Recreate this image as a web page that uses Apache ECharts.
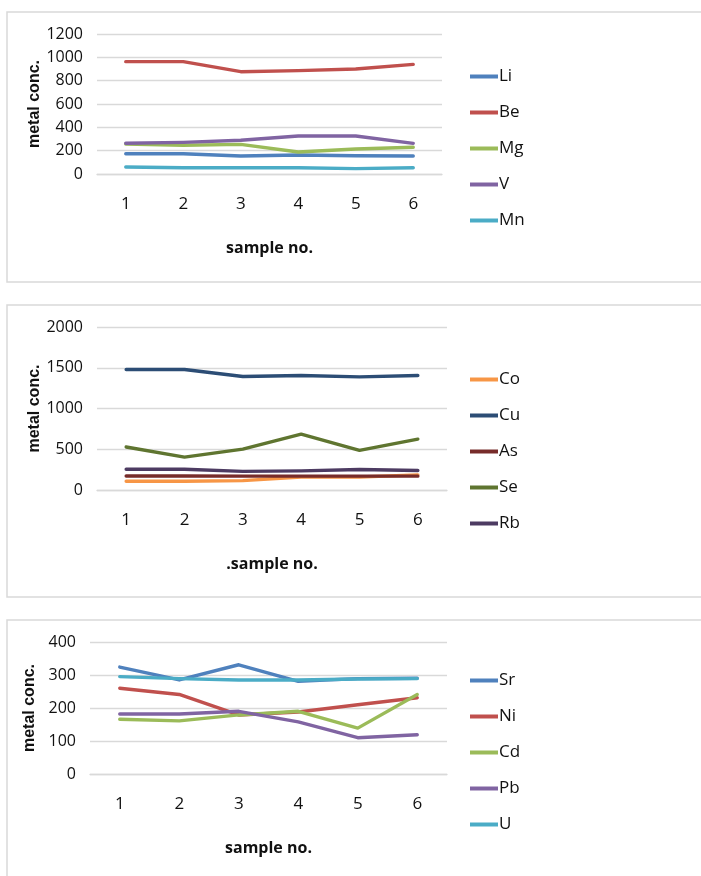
<!DOCTYPE html>
<html>
<head>
<meta charset="utf-8">
<script src="https://cdn.jsdelivr.net/npm/echarts@6/dist/echarts.min.js"></script>
<style>
html, body { margin: 0; padding: 0; background: #fff; }
#main { width: 701px; height: 876px; }
</style>
</head>
<body>
<div id="main"></div>
<script>
var samples = ['1', '2', '3', '4', '5', '6'];

// panel 1
var names1 = ['Li', 'Be', 'Mg', 'V', 'Mn'];
var Li = [174, 174, 154, 163, 157, 154];
var Be = [963, 963, 877, 886, 900, 940];
var Mg = [257, 246, 254, 189, 214, 229];
var V  = [263, 271, 289, 326, 326, 263];
var Mn = [60, 54, 54, 54, 46, 54];

// panel 2
var names2 = ['Co', 'Cu', 'As', 'Se', 'Rb'];
var Co = [107, 107, 115, 160, 160, 185];
var Cu = [1478, 1478, 1392, 1404, 1388, 1404];
var As = [172, 172, 170, 170, 170, 170];
var Se = [527, 404, 502, 686, 486, 624];
var Rb = [254, 254, 228, 235, 252, 240];

// panel 3
var names3 = ['Sr', 'Ni', 'Cd', 'Pb', 'U'];
var Sr = [324, 285, 331, 281, 289, 290];
var Ni = [260, 241, 179, 188, 210, 231];
var Cd = [166, 161, 179, 190, 139, 241];
var Pb = [182, 182, 190, 158, 110, 119];
var U  = [295, 289, 285, 285, 288, 289];

var colors1 = ['#4F81BD', '#C0504D', '#9BBB59', '#8064A2', '#4BACC6'];
var colors2 = ['#F79646', '#2C4D75', '#772C2A', '#5F7530', '#4D3B62'];
var colors3 = ['#4F81BD', '#C0504D', '#9BBB59', '#8064A2', '#4BACC6'];

var font = '"Open Sans", sans-serif';

var panels = [
    {names: names1, data: [Li, Be, Mg, V, Mn], colors: colors1, max: 1200, interval: 200,
     grid: {left: 97, top: 34, width: 345, height: 140}, xname: 'sample no.', legendTop: 63, box: [7, 12, 720, 270]},
    {names: names2, data: [Co, Cu, As, Se, Rb], colors: colors2, max: 2000, interval: 500,
     grid: {left: 97, top: 327, width: 350, height: 163}, xname: '.sample no.', legendTop: 366, box: [7, 305, 720, 292]},
    {names: names3, data: [Sr, Ni, Cd, Pb, U], colors: colors3, max: 400, interval: 100,
     grid: {left: 90, top: 642, width: 357, height: 132}, xname: 'sample no.', legendTop: 667, box: [7, 620, 720, 300]}
];

var grids = [], xAxes = [], yAxes = [], series = [], legends = [], graphic = [];

for (var p = 0; p < panels.length; p++) {
    var P = panels[p];
    grids.push(P.grid);
    graphic.push({
        type: 'rect',
        shape: {x: P.box[0], y: P.box[1], width: P.box[2], height: P.box[3]},
        style: {fill: 'none', stroke: '#d9d9d9', lineWidth: 1.5},
        silent: true
    });
    xAxes.push({
        type: 'category',
        gridIndex: p,
        data: samples,
        boundaryGap: true,
        axisLine: {show: true, lineStyle: {color: '#d9d9d9', width: 1.3}},
        axisTick: {show: false},
        axisLabel: {margin: 22, fontSize: 17, color: '#111', fontFamily: font},
        name: P.xname,
        nameLocation: 'middle',
        nameGap: 66,
        nameTextStyle: {fontSize: 16, fontWeight: 'bold', color: '#111', fontFamily: font}
    });
    yAxes.push({
        type: 'value',
        gridIndex: p,
        min: 0,
        max: P.max,
        interval: P.interval,
        axisLine: {show: false},
        axisTick: {show: false},
        splitLine: {lineStyle: {color: '#d9d9d9', width: 1.3}},
        axisLabel: {margin: 14, fontSize: 16, color: '#111', fontFamily: font,
                    formatter: function (v) { return String(v); }},
        name: 'metal conc.',
        nameLocation: 'middle',
        nameGap: 47,
        nameTextStyle: {fontSize: 16, fontWeight: 'bold', color: '#111', fontFamily: '"Liberation Sans", Arial, sans-serif'}
    });
    legends.push({
        data: P.names,
        orient: 'vertical',
        left: 465,
        top: P.legendTop,
        icon: 'rect',
        itemWidth: 28,
        itemHeight: 4,
        itemGap: 19,
        selectedMode: false,
        textStyle: {fontSize: 17, color: '#111', fontFamily: font, padding: [0, 0, 0, -4]}
    });
    for (var i = 0; i < P.names.length; i++) {
        series.push({
            type: 'line',
            name: P.names[i],
            xAxisIndex: p,
            yAxisIndex: p,
            data: P.data[i],
            symbol: 'none',
            smooth: false,
            lineStyle: {width: 3.4, color: P.colors[i], cap: 'round', join: 'round'},
            itemStyle: {color: P.colors[i]},
            animation: false
        });
    }
}

var myChart = echarts.init(document.getElementById('main'));
myChart.setOption({
    animation: false,
    grid: grids,
    xAxis: xAxes,
    yAxis: yAxes,
    legend: legends,
    graphic: graphic,
    series: series
});
</script>
</body>
</html>
